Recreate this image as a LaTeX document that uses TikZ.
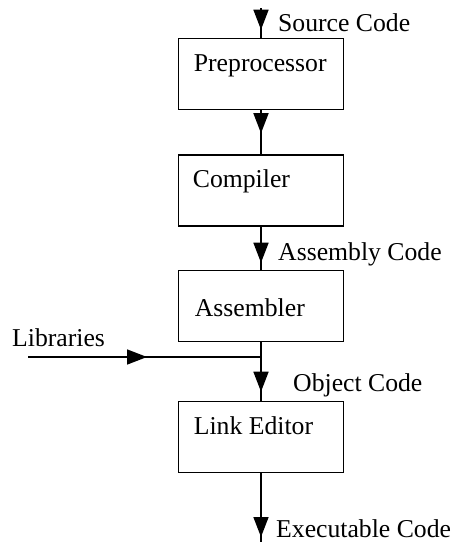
\documentclass[tikz,border=0pt]{standalone}
\usepackage{fontspec}
\setmainfont{Liberation Serif}
\usetikzlibrary{arrows.meta,decorations.markings,calc}
\begin{document}
\begin{tikzpicture}[x=1pt,y=-1pt,
  box/.style={draw,line width=1.6pt,minimum width=165pt,minimum height=71pt,inner sep=0pt},
  txt/.style={anchor=base west,inner sep=0pt,font=\fontsize{25.7}{30}\selectfont},
  conn/.style={line width=1.6pt},
  tipat/.style={postaction={decorate},decoration={markings,mark=at position #1 with {\arrow{Triangle[length=20pt,width=15pt]}}}}
]
\useasboundingbox (0,0) rectangle (453,542);
% boxes
\node[box] (pre)  at (261,74)  {};
\node[box] (comp) at (261,190.5) {};
\node[box] (asm)  at (261,306) {};
\node[box] (link) at (261,437) {};
% box texts
\node[txt] (tpre)  at ($(pre.north west)+(16,34)$)  {Preprocessor};
\node[txt] (tcomp) at ($(comp.north west)+(15,33)$) {Compiler};
\node[txt] (tasm)  at ($(asm.north west)+(17,47)$)  {Assembler};
\node[txt] (tlink) at ($(link.north west)+(16,34)$) {Link Editor};
% free ends
\coordinate (src) at (261,8);
\coordinate (exe) at (261,542);
\coordinate (lib) at (28,357);
\coordinate (join) at (261,357);
% connectors
\draw[conn,tipat=-8pt] (src) -- (pre.north);
\draw[conn,tipat=-21pt] (pre.south) -- (comp.north);
\draw[conn,tipat=-7pt] (comp.south) -- (asm.north);
\draw[conn,tipat=-9pt] (asm.south) -- (link.north);
\draw[conn,tipat=-5pt] (link.south) -- (exe);
\draw[conn,tipat=119pt] (lib) -- (join);
% labels
\node[txt] (lsrc) at (278,31)  {Source Code};
\node[txt] (lasm) at (278,260) {Assembly Code};
\node[txt] (lobj) at (293,391) {Object Code};
\node[txt] (lexe) at (276,537) {Executable Code};
\node[txt] (llib) at (12,346)  {Libraries};
\end{tikzpicture}
\end{document}
